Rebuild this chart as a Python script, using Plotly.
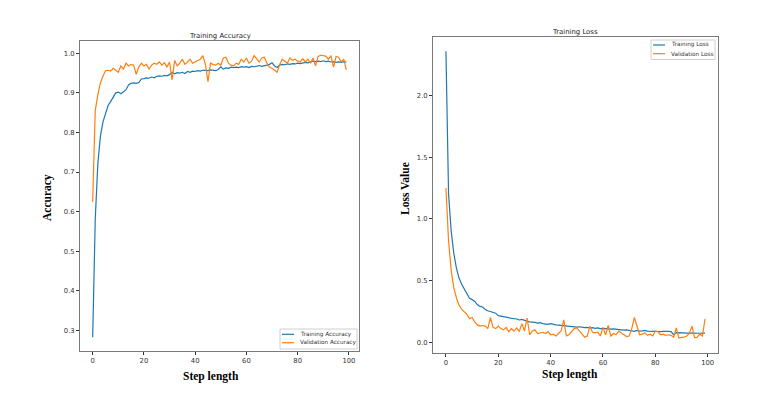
import plotly.graph_objects as go

# epochs 0..99
steps = list(range(100))

train_acc = [
    0.283, 0.58, 0.72, 0.79, 0.826, 0.85, 0.868, 0.878, 0.89, 0.90,
    0.902, 0.898, 0.903, 0.908, 0.92, 0.924, 0.925, 0.924, 0.926, 0.935,
    0.936, 0.938, 0.937, 0.940, 0.938, 0.942, 0.943, 0.942, 0.944, 0.943,
    0.946, 0.952, 0.948, 0.951, 0.950, 0.952, 0.949, 0.954, 0.952, 0.955,
    0.954, 0.956, 0.955, 0.957, 0.957, 0.956, 0.958, 0.957, 0.956, 0.959,
    0.966, 0.960, 0.963, 0.962, 0.965, 0.964, 0.965, 0.964, 0.966, 0.965,
    0.966, 0.964, 0.967, 0.966, 0.967, 0.969, 0.967, 0.968, 0.970, 0.972,
    0.976, 0.968, 0.964, 0.970, 0.972, 0.971, 0.973, 0.972, 0.974, 0.973,
    0.975, 0.974, 0.975, 0.977, 0.976, 0.978, 0.980, 0.979, 0.980, 0.979,
    0.981, 0.979, 0.980, 0.978, 0.979, 0.977, 0.978, 0.977, 0.979, 0.978,
]
val_acc = [
    0.625, 0.855, 0.895, 0.925, 0.942, 0.956, 0.957, 0.955, 0.962, 0.958,
    0.952, 0.968, 0.960, 0.975, 0.968, 0.972, 0.970, 0.947, 0.965, 0.975,
    0.968, 0.972, 0.960, 0.970, 0.975, 0.972, 0.978, 0.970, 0.976, 0.965,
    0.978, 0.933, 0.982, 0.968, 0.975, 0.985, 0.972, 0.978, 0.985, 0.975,
    0.978, 0.982, 0.985, 0.994, 0.972, 0.928, 0.975, 0.972, 0.970, 0.975,
    0.970, 0.988, 0.990, 0.975, 0.970, 0.968, 0.975, 0.972, 0.985, 0.978,
    0.988, 0.975, 0.980, 0.994, 0.985, 0.978, 0.988, 0.990, 0.975, 0.965,
    0.962, 0.958, 0.952, 0.972, 0.985, 0.980, 0.975, 0.988, 0.982, 0.985,
    0.980, 0.978, 0.986, 0.978, 0.985, 0.975, 0.988, 0.968, 0.992, 0.995,
    0.994, 0.993, 0.985, 0.994, 0.965, 0.992, 0.990, 0.978, 0.985, 0.958,
]
train_loss = [
    2.36, 1.20, 0.90, 0.72, 0.60, 0.52, 0.47, 0.43, 0.39, 0.355,
    0.345, 0.33, 0.305, 0.29, 0.285, 0.265, 0.255, 0.25, 0.245, 0.235,
    0.215, 0.21, 0.205, 0.20, 0.198, 0.195, 0.19, 0.188, 0.18, 0.185,
    0.175, 0.17, 0.165, 0.165, 0.16, 0.155, 0.158, 0.15, 0.148, 0.145,
    0.15, 0.142, 0.14, 0.138, 0.135, 0.135, 0.132, 0.13, 0.128, 0.125,
    0.122, 0.125, 0.12, 0.118, 0.12, 0.115, 0.118, 0.112, 0.115, 0.11,
    0.112, 0.108, 0.11, 0.105, 0.107, 0.103, 0.105, 0.10, 0.098, 0.10,
    0.095, 0.092, 0.088, 0.095, 0.09, 0.092, 0.095, 0.09, 0.088, 0.09,
    0.087, 0.088, 0.085, 0.087, 0.09, 0.088, 0.085, 0.06, 0.078, 0.075,
    0.076, 0.075, 0.074, 0.075, 0.073, 0.074, 0.072, 0.074, 0.073, 0.073,
]
val_loss = [
    1.25, 0.82, 0.58, 0.44, 0.36, 0.30, 0.265, 0.245, 0.225, 0.19,
    0.20, 0.165, 0.14, 0.13, 0.135, 0.13, 0.11, 0.20, 0.12, 0.11,
    0.13, 0.11, 0.10, 0.12, 0.085, 0.11, 0.09, 0.115, 0.085, 0.15,
    0.09, 0.195, 0.06, 0.09, 0.10, 0.07, 0.075, 0.08, 0.07, 0.085,
    0.06, 0.065, 0.05, 0.07, 0.09, 0.18, 0.05, 0.06, 0.09, 0.11,
    0.115, 0.09, 0.07, 0.04, 0.05, 0.13, 0.08, 0.075, 0.08, 0.05,
    0.12, 0.06, 0.135, 0.05, 0.07, 0.06, 0.09, 0.075, 0.06, 0.045,
    0.05, 0.11, 0.20, 0.12, 0.06, 0.065, 0.075, 0.055, 0.065, 0.05,
    0.09, 0.085, 0.06, 0.065, 0.055, 0.06, 0.055, 0.04, 0.115, 0.035,
    0.035, 0.04, 0.05, 0.07, 0.13, 0.035, 0.04, 0.065, 0.05, 0.19,
]

BLUE = "#1f77b4"
ORANGE = "#ff7f0e"
TICK_FONT = dict(family="DejaVu Sans", size=6.8, color="#333")
LABEL_FONT = dict(family="Liberation Serif", size=11.5, color="black")
SMALL_FONT = dict(family="DejaVu Sans", size=5.7, color="#333")
TITLE_FONT = dict(family="DejaVu Sans", size=6.9, color="#222")
FRAME = "#7a7a7a"

# the page body has an 8px margin, so the figure sits at (8, 8)
W, H = 754, 382

def px(x):
    return (x - 8) / W

def py(y):
    return (H + 8 - y) / H

fig = go.Figure()

fig.add_trace(go.Scatter(x=steps, y=train_acc, mode="lines", name="Training Accuracy",
                         line=dict(color=BLUE, width=1.2), xaxis="x", yaxis="y"))
fig.add_trace(go.Scatter(x=steps, y=val_acc, mode="lines", name="Validation Accuracy",
                         line=dict(color=ORANGE, width=1.2), xaxis="x", yaxis="y"))
fig.add_trace(go.Scatter(x=steps, y=train_loss, mode="lines", name="Training Loss",
                         line=dict(color=BLUE, width=1.2), xaxis="x2", yaxis="y2"))
fig.add_trace(go.Scatter(x=steps, y=val_loss, mode="lines", name="Validation Loss",
                         line=dict(color=ORANGE, width=1.2), xaxis="x2", yaxis="y2"))

axis_common = dict(showgrid=False, zeroline=False, showline=True, mirror=True,
                   linecolor=FRAME, linewidth=1, ticks="outside", ticklen=3,
                   tickcolor="#333", tickfont=TICK_FONT)

shapes = []
annotations = []

# small matplotlib-style legends, drawn by hand
def add_legend(box, rows):
    x0, y0, x1, y1 = box
    shapes.append(dict(type="rect", xref="paper", yref="paper",
                       x0=px(x0), x1=px(x1), y0=py(y1), y1=py(y0),
                       line=dict(color="#d0d0d0", width=1), fillcolor="white"))
    for (lx0, lx1, ty, color, label) in rows:
        shapes.append(dict(type="line", xref="paper", yref="paper",
                           x0=px(lx0), x1=px(lx1), y0=py(ty), y1=py(ty),
                           line=dict(color=color, width=1.2)))
        annotations.append(dict(text=label, x=px(lx1 + 4), y=py(ty), xref="paper", yref="paper",
                                xanchor="left", yanchor="middle", showarrow=False, font=SMALL_FONT))

add_legend((280, 329, 357, 349), [
    (282, 294, 334.3, BLUE, "Training Accuracy"),
    (282, 294, 342.7, ORANGE, "Validation Accuracy"),
])
add_legend((651, 40, 715, 59.5), [
    (653, 665, 45, BLUE, "Training Loss"),
    (653, 665, 53.7, ORANGE, "Validation Loss"),
])

annotations += [
    dict(text="Training Accuracy", x=px(220), y=py(36), xref="paper", yref="paper",
         xanchor="center", yanchor="middle", showarrow=False, font=TITLE_FONT),
    dict(text="Training Loss", x=px(575), y=py(31.5), xref="paper", yref="paper",
         xanchor="center", yanchor="middle", showarrow=False, font=TITLE_FONT),
    dict(text="<b>Accuracy</b>", x=px(47), y=py(198), xref="paper", yref="paper",
         xanchor="center", yanchor="middle", textangle=-90, showarrow=False, font=LABEL_FONT),
    dict(text="<b>Loss Value</b>", x=px(405), y=py(189), xref="paper", yref="paper",
         xanchor="center", yanchor="middle", textangle=-90, showarrow=False, font=LABEL_FONT),
    dict(text="<b>Step length</b>", x=px(211), y=py(376), xref="paper", yref="paper",
         xanchor="center", yanchor="middle", showarrow=False, font=LABEL_FONT),
    dict(text="<b>Step length</b>", x=px(570), y=py(374), xref="paper", yref="paper",
         xanchor="center", yanchor="middle", showarrow=False, font=LABEL_FONT),
]

fig.update_layout(
    width=W, height=H,
    paper_bgcolor="white", plot_bgcolor="white",
    margin=dict(l=0, r=0, t=0, b=0),
    showlegend=False,
    xaxis=dict(domain=[px(80), px(359)], range=[-4.95, 103.95], tickvals=[0, 20, 40, 60, 80, 100],
               anchor="y", **axis_common),
    yaxis=dict(domain=[py(351), py(41)], range=[0.248, 1.031],
               tickvals=[0.3, 0.4, 0.5, 0.6, 0.7, 0.8, 0.9, 1.0],
               tickformat=".1f", anchor="x", **axis_common),
    xaxis2=dict(domain=[px(433), px(718)], range=[-4.95, 103.95], tickvals=[0, 20, 40, 60, 80, 100],
                anchor="y2", **axis_common),
    yaxis2=dict(domain=[py(353), py(37)], range=[-0.088, 2.475], tickvals=[0.0, 0.5, 1.0, 1.5, 2.0],
                tickformat=".1f", anchor="x2", **axis_common),
    shapes=shapes,
    annotations=annotations,
)

fig.write_html("out.html")
